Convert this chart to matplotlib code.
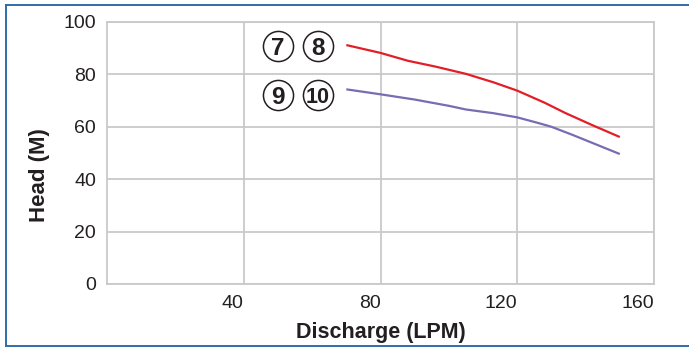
import matplotlib
matplotlib.use('Agg')
import matplotlib.pyplot as plt
from matplotlib.lines import Line2D

# --- DATA ---
red_x = [70, 80, 88, 96, 105, 113, 120, 128, 134, 142, 150]
red_y = [91.2, 88.2, 85.2, 83.0, 80.2, 77.0, 73.8, 69.2, 65.3, 60.6, 56.1]

purple_x = [70, 80, 90, 100, 105, 113, 120, 126, 130, 136, 143, 150]
purple_y = [74.3, 72.4, 70.4, 68.0, 66.6, 65.2, 63.6, 61.5, 60.0, 57.0, 53.3, 49.6]

# model numbers drawn in circles, left of each curve
label_x = [49.9, 61.6]
red_label = ['7', '8']
red_label_y = 91.0
purple_label = ['9', '10']
purple_label_y = 72.1

x_ticks = [40, 80, 120, 160]
y_ticks = [0, 20, 40, 60, 80, 100]

TEXT = '#231f20'
GRID = '#c9c9c9'

plt.rcParams['font.family'] = ['Liberation Sans', 'DejaVu Sans']

fig = plt.figure(figsize=(6.89, 3.47), dpi=100)
ax = fig.add_axes([0.1553, 0.1816, 0.7939, 0.755])

ax.plot(red_x, red_y, color='#e31e26', linewidth=1.6, solid_capstyle='butt')
ax.plot(purple_x, purple_y, color='#7a6bb3', linewidth=1.6, solid_capstyle='butt')

# circled labels
for labels, yy in [(red_label, red_label_y), (purple_label, purple_label_y)]:
    ax.scatter(label_x, [yy] * len(label_x), s=470, facecolors='white',
               edgecolors=TEXT, linewidths=1.1, zorder=3)
    for lbl, xx in zip(labels, label_x):
        fs = 17.5 if len(lbl) == 1 else 15.5
        ax.text(xx, yy, lbl, fontsize=fs, fontweight='bold', ha='center',
                va='center_baseline', color=TEXT, zorder=4)

ax.set_xlim(0, 160)
ax.set_ylim(0, 100)
ax.set_xticks(x_ticks)
ax.set_yticks(y_ticks)
ax.set_xticklabels([str(v) for v in x_ticks], ha='right')
ax.tick_params(axis='both', length=0, labelsize=14, labelcolor=TEXT)
ax.tick_params(axis='x', pad=8)
ax.tick_params(axis='y', pad=8)
ax.grid(True, color=GRID, linewidth=1.3)
ax.set_axisbelow(True)
for s in ax.spines.values():
    s.set_color(GRID)
    s.set_linewidth(1.3)

ax.set_xlabel('Discharge (LPM)', fontsize=15.5, fontweight='bold', color=TEXT)
ax.set_ylabel('Head (M)', fontsize=16, fontweight='bold', color=TEXT)
ax.xaxis.set_label_coords(0.5, -0.145)
ax.yaxis.set_label_coords(-0.104, 0.416)

# blue frame (top, left, bottom)
frame = '#2f6ea8'
fig.add_artist(Line2D([5.5/689, 1], [1 - 4.5/347] * 2, color=frame, lw=1.4, transform=fig.transFigure))
fig.add_artist(Line2D([5.5/689] * 2, [1 - 4.5/347, 1 - 345.5/347], color=frame, lw=1.4, transform=fig.transFigure))
fig.add_artist(Line2D([5.5/689, 1], [1 - 345.5/347] * 2, color=frame, lw=1.4, transform=fig.transFigure))

fig.savefig('out.png', dpi=100)
